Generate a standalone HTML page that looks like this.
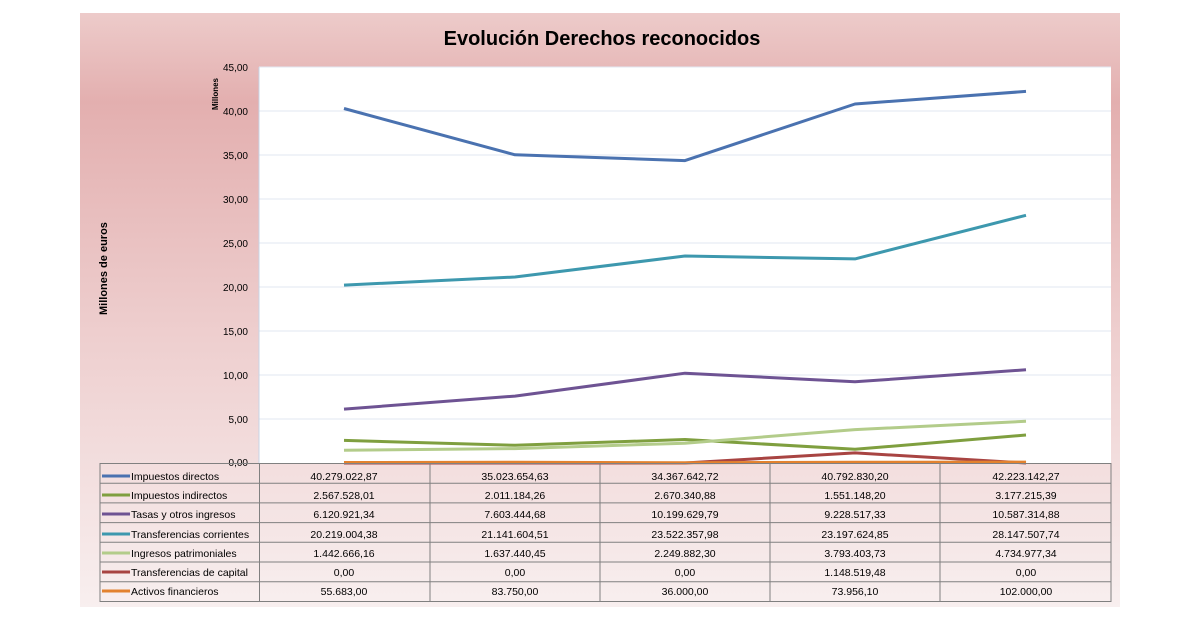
<!DOCTYPE html>
<html><head><meta charset="utf-8"><style>
body{margin:0;background:#fff;}
svg{display:block;font-family:"Liberation Sans",sans-serif;}
</style></head><body>
<svg width="1200" height="620" xmlns="http://www.w3.org/2000/svg">
<defs>
<linearGradient id="bg" x1="0" y1="0" x2="0" y2="1">
<stop offset="0" stop-color="#edcbca"/>
<stop offset="0.15" stop-color="#e3afaf"/>
<stop offset="0.55" stop-color="#eecfcf"/>
<stop offset="1" stop-color="#f8efef"/>
</linearGradient>
</defs>
<rect x="80" y="13" width="1040" height="594" fill="url(#bg)"/>
<text x="602" y="45" text-anchor="middle" font-size="20" font-weight="bold" fill="#000">Evolución Derechos reconocidos</text>
<rect x="259" y="67" width="852" height="396" fill="#fff"/>
<g stroke="#e0e7f2" stroke-width="1">
<line x1="259" x2="1111" y1="111" y2="111"/><line x1="259" x2="1111" y1="155" y2="155"/>
<line x1="259" x2="1111" y1="199" y2="199"/><line x1="259" x2="1111" y1="243" y2="243"/>
<line x1="259" x2="1111" y1="287" y2="287"/><line x1="259" x2="1111" y1="331" y2="331"/>
<line x1="259" x2="1111" y1="375" y2="375"/><line x1="259" x2="1111" y1="419" y2="419"/>
<line x1="259" x2="1111" y1="67" y2="67"/>
</g>
<line x1="259" x2="259" y1="67" y2="463" stroke="#c8d4e6"/>
<g font-size="10" text-anchor="end" fill="#000">
<text x="248" y="71">45,00</text><text x="248" y="115">40,00</text><text x="248" y="159">35,00</text>
<text x="248" y="203">30,00</text><text x="248" y="247">25,00</text><text x="248" y="291">20,00</text>
<text x="248" y="335">15,00</text><text x="248" y="379">10,00</text><text x="248" y="423">5,00</text>
<text x="248" y="466">0,00</text>
</g>
<text transform="translate(218,110) rotate(-90)" font-size="8" font-weight="bold">Millones</text>
<text transform="translate(107,315) rotate(-90)" font-size="11" font-weight="bold">Millones de euros</text>
<g fill="none" stroke-width="3" stroke-linejoin="round">
<polyline stroke="#4a72b0" points="344,108.5 515,154.8 685,160.6 855,104 1026,91.4"/>
<polyline stroke="#7f9f3f" points="344,440.4 515,445.3 685,439.5 855,449.3 1026,435"/>
<polyline stroke="#6e5393" points="344,409.1 515,396.1 685,373.2 855,381.8 1026,369.8"/>
<polyline stroke="#3d98ae" points="344,285.1 515,277 685,256 855,258.9 1026,215.3"/>
<polyline stroke="#b3cc8a" points="344,450.3 515,448.6 685,443.2 855,429.6 1026,421.3"/>
<polyline stroke="#a84442" points="344,463 515,463 685,463 855,452.9 1026,463"/>
<polyline stroke="#e3822f" points="344,462.5 515,462.3 685,462.7 855,462.3 1026,462.1"/>
</g>
<g stroke="#808080" stroke-width="1" fill="none">
<rect x="100" y="463.5" width="1011" height="138"/>
<line x1="100" x2="1111" y1="483.2" y2="483.2"/><line x1="100" x2="1111" y1="502.9" y2="502.9"/>
<line x1="100" x2="1111" y1="522.6" y2="522.6"/><line x1="100" x2="1111" y1="542.3" y2="542.3"/>
<line x1="100" x2="1111" y1="562" y2="562"/><line x1="100" x2="1111" y1="581.7" y2="581.7"/>
<line x1="259.5" x2="259.5" y1="463" y2="601"/><line x1="430" x2="430" y1="463" y2="601"/>
<line x1="600" x2="600" y1="463" y2="601"/><line x1="770" x2="770" y1="463" y2="601"/>
<line x1="940" x2="940" y1="463" y2="601"/>
</g>
<g stroke-width="3">
<line x1="102" x2="130" y1="476" y2="476" stroke="#4a72b0"/>
<line x1="102" x2="130" y1="495" y2="495" stroke="#7f9f3f"/>
<line x1="102" x2="130" y1="514" y2="514" stroke="#6e5393"/>
<line x1="102" x2="130" y1="534" y2="534" stroke="#3d98ae"/>
<line x1="102" x2="130" y1="553" y2="553" stroke="#b3cc8a"/>
<line x1="102" x2="130" y1="572" y2="572" stroke="#a84442"/>
<line x1="102" x2="130" y1="591" y2="591" stroke="#e3822f"/>
</g>
<g font-size="10.5" fill="#000">
<text x="131" y="480">Impuestos directos</text>
<text x="131" y="499">Impuestos indirectos</text>
<text x="131" y="518">Tasas y otros ingresos</text>
<text x="131" y="538">Transferencias corrientes</text>
<text x="131" y="557">Ingresos patrimoniales</text>
<text x="131" y="576">Transferencias de capital</text>
<text x="131" y="595">Activos financieros</text>
</g>
<g font-size="10.5" fill="#000" text-anchor="middle">
<text x="344" y="480">40.279.022,87</text><text x="515" y="480">35.023.654,63</text><text x="685" y="480">34.367.642,72</text><text x="855" y="480">40.792.830,20</text><text x="1026" y="480">42.223.142,27</text>
<text x="344" y="499">2.567.528,01</text><text x="515" y="499">2.011.184,26</text><text x="685" y="499">2.670.340,88</text><text x="855" y="499">1.551.148,20</text><text x="1026" y="499">3.177.215,39</text>
<text x="344" y="518">6.120.921,34</text><text x="515" y="518">7.603.444,68</text><text x="685" y="518">10.199.629,79</text><text x="855" y="518">9.228.517,33</text><text x="1026" y="518">10.587.314,88</text>
<text x="344" y="538">20.219.004,38</text><text x="515" y="538">21.141.604,51</text><text x="685" y="538">23.522.357,98</text><text x="855" y="538">23.197.624,85</text><text x="1026" y="538">28.147.507,74</text>
<text x="344" y="557">1.442.666,16</text><text x="515" y="557">1.637.440,45</text><text x="685" y="557">2.249.882,30</text><text x="855" y="557">3.793.403,73</text><text x="1026" y="557">4.734.977,34</text>
<text x="344" y="576">0,00</text><text x="515" y="576">0,00</text><text x="685" y="576">0,00</text><text x="855" y="576">1.148.519,48</text><text x="1026" y="576">0,00</text>
<text x="344" y="595">55.683,00</text><text x="515" y="595">83.750,00</text><text x="685" y="595">36.000,00</text><text x="855" y="595">73.956,10</text><text x="1026" y="595">102.000,00</text>
</g>
</svg>
</body></html>
